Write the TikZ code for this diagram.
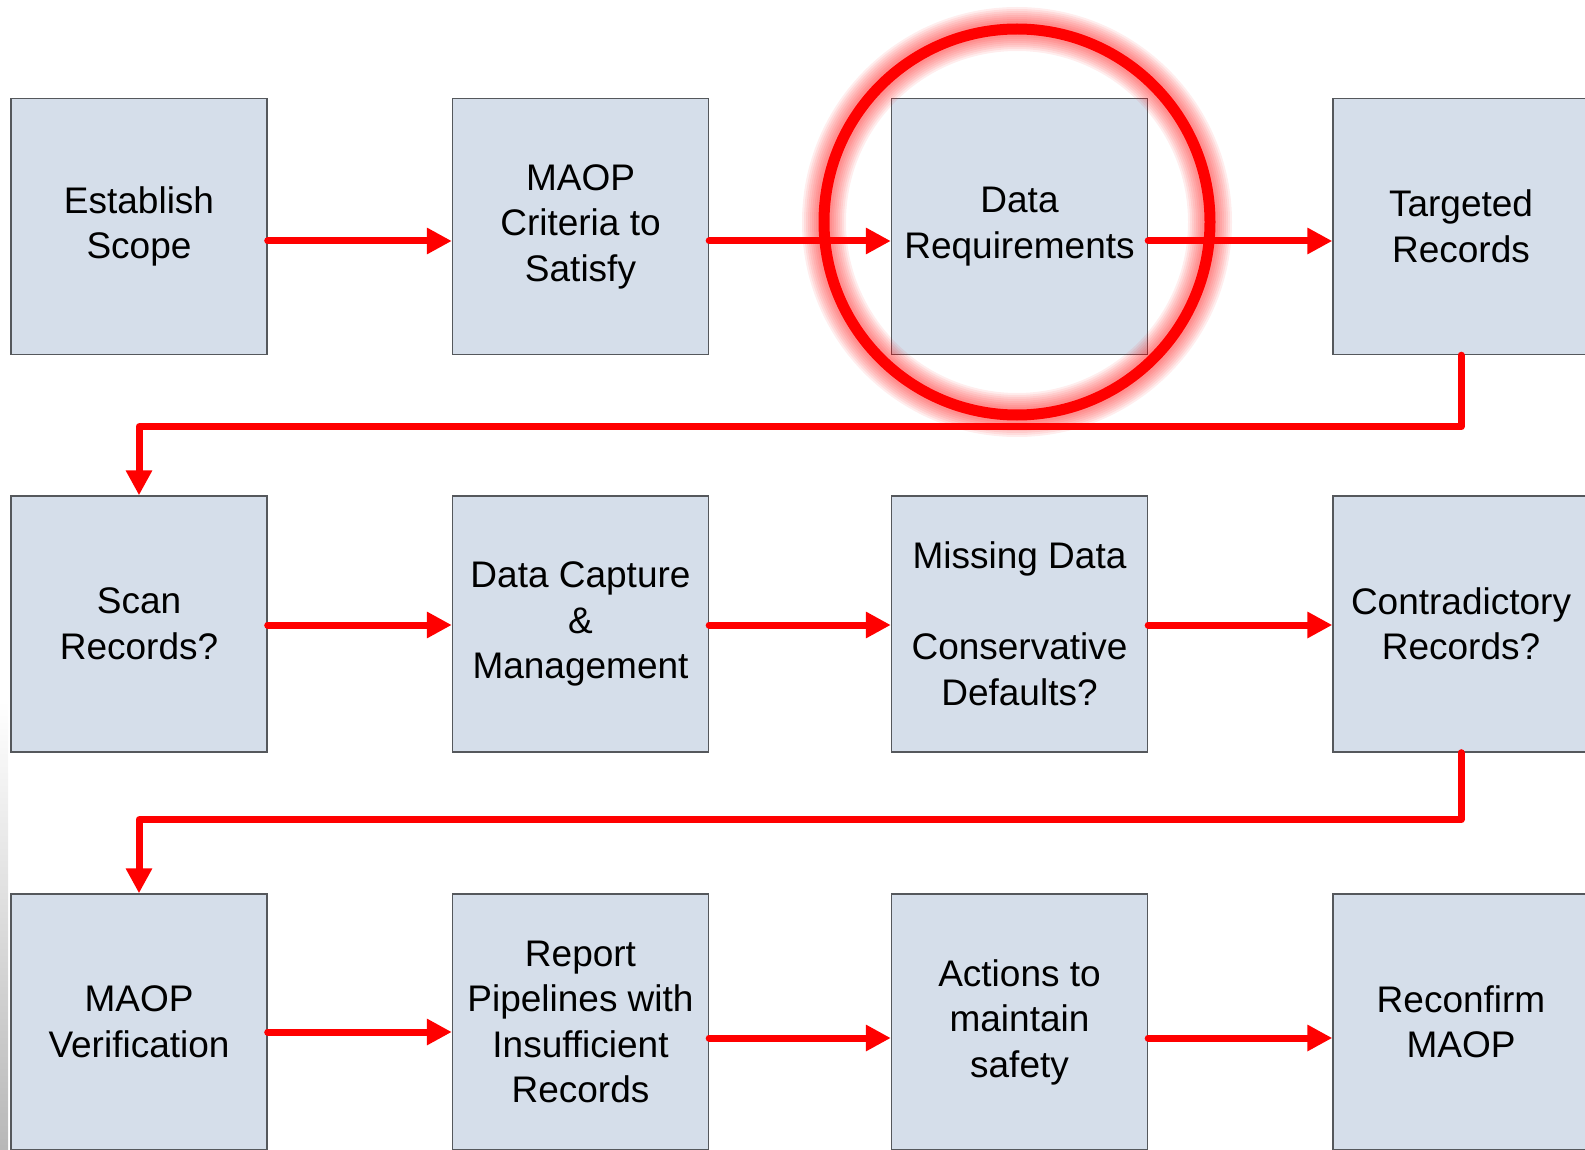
\documentclass[tikz,border=0pt]{standalone}
\usepackage{fontspec}
\setmainfont{Liberation Sans}
\usetikzlibrary{arrows.meta,calc}

\definecolor{boxfill}{RGB}{213,222,234}
\definecolor{boxline}{RGB}{85,88,92}
\definecolor{flowred}{RGB}{255,0,0}

\tikzset{
  stage/.style={draw=boxline, line width=1.4pt, fill=boxfill,
    minimum width=256pt, minimum height=256pt, inner sep=0pt,
    align=center, text=black, font=\fontsize{37}{45.5}\selectfont},
  flow/.style={draw=flowred, line width=7pt, line cap=round, line join=round,
    -{Triangle[length=25pt,width=25pt]}},
}

\begin{document}
\begin{tikzpicture}[x=1pt, y=-1pt]
\useasboundingbox (0,0) rectangle (1585,1150);
\clip (0,0) rectangle (1585,1150);

% faint grey strip along the lower left edge
\shade[top color=white, bottom color=black!28] (0,700) rectangle (8,1150);

% process stages, three rows of four
\node[stage] (s1)  at (139,226.5)  {Establish\\Scope};
\node[stage] (s2)  at (580.5,226.5) {MAOP\\Criteria to\\Satisfy};
\node[stage] (s3)  at (1019.5,226.5) {Data\\Requirements};
\node[stage] (s4)  at (1461,226.5) {Targeted\\Records};

\node[stage] (s5)  at (139,624)    {Scan\\Records?};
\node[stage] (s6)  at (580.5,624)  {Data Capture\\\&\\Management};
\node[stage] (s7)  at (1019.5,624) {Missing Data\\\mbox{}\\Conservative\\Defaults?};
\node[stage] (s8)  at (1461,624)   {Contradictory\\Records?};

\node[stage] (s9)  at (139,1022)   {MAOP\\Verification};
\node[stage] (s10) at (580.5,1022) {Report\\Pipelines with\\Insufficient\\Records};
\node[stage] (s11) at (1019.5,1022) {Actions to\\maintain\\safety};
\node[stage] (s12) at (1461,1022)  {Reconfirm\\MAOP};

% row connectors
\draw[flow] ($(s1.east)+(0,14.5)$) -- ($(s2.west)+(0,14.5)$);
\draw[flow] ($(s2.east)+(0,14.5)$) -- ($(s3.west)+(0,14.5)$);
\draw[flow] ($(s3.east)+(0,14.5)$) -- ($(s4.west)+(0,14.5)$);

\draw[flow] ($(s5.east)+(0,1)$) -- ($(s6.west)+(0,1)$);
\draw[flow] ($(s6.east)+(0,1)$) -- ($(s7.west)+(0,1)$);
\draw[flow] ($(s7.east)+(0,1)$) -- ($(s8.west)+(0,1)$);

\draw[flow] ($(s9.east)+(0,10)$)  -- ($(s10.west)+(0,10)$);
\draw[flow] ($(s10.east)+(0,16)$) -- ($(s11.west)+(0,16)$);
\draw[flow] ($(s11.east)+(0,16)$) -- ($(s12.west)+(0,16)$);

% returns to the start of the next row
\draw[flow] (s4.south) -- ++(0,71.5) -| (s5.north);
\draw[flow] (s8.south) -- ++(0,67) -| (s9.north);

% highlight ring with a soft glow
\coordinate (ring) at (1017,222);
\foreach \w in {44,40,36,32,28,24,20,16}
  \draw[flowred, line width=\w pt, opacity=0.07] (ring) circle[radius=193];
\draw[flowred, line width=11pt] (ring) circle[radius=193];
\end{tikzpicture}
\end{document}
